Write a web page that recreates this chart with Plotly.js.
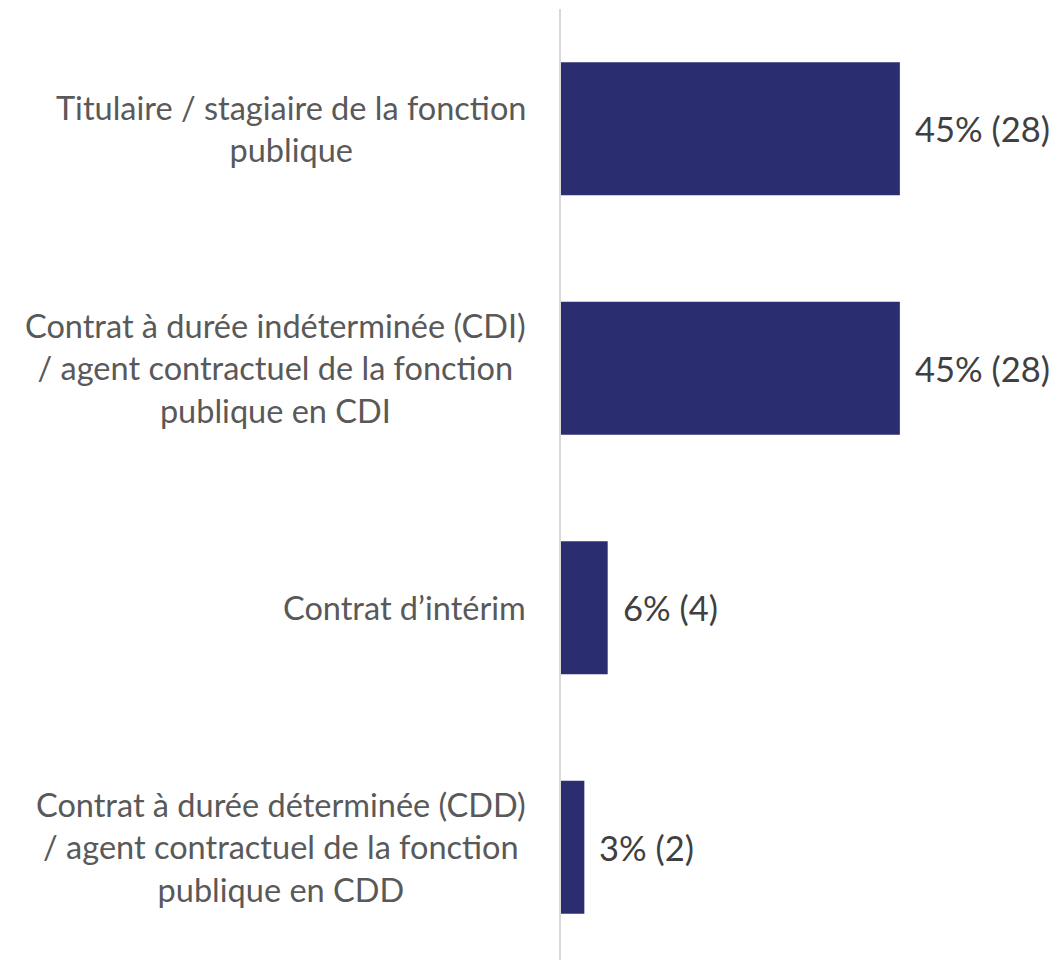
<!DOCTYPE html>
<html>
<head>
<meta charset="utf-8">
<script src="https://cdn.plot.ly/plotly-3.0.1.min.js"></script>
<style>
  html, body { margin: 0; padding: 0; background: #ffffff; overflow: hidden; }
  #chart { width: 1055px; height: 967px; }
</style>
</head>
<body>
<div id="chart"></div>
<script>
// Categories (top to bottom)
var categories = [
  "Titulaire / stagiaire de la fonction<br>publique",
  "Contrat à durée indéterminée (CDI)<br>/ agent contractuel de la fonction<br>publique en CDI",
  "Contrat d’intérim",
  "Contrat à durée déterminée (CDD)<br>/ agent contractuel de la fonction<br>publique en CDD"
];
// Share of respondents (%)
var percents = [45, 45, 6.2, 3.1];
// Respondent counts
var counts = [28, 28, 4, 2];
// Value labels
var valueLabels = ["45% (28)", "45% (28)", "6% (4)", "3% (2)"];

var barColor = "#2B2D71";
var labelFont = "Lato, 'Open Sans', sans-serif";

var trace = {
  type: "bar",
  orientation: "h",
  x: percents,
  y: categories,
  customdata: counts,
  marker: { color: barColor, line: { width: 0 } },
  hoverinfo: "skip"
};

var annotations = [];
categories.forEach(function (c, i) {
  annotations.push({
    xref: "x", yref: "y",
    x: 0, y: c,
    text: c,
    showarrow: false,
    xanchor: "right", yanchor: "middle",
    align: "center",
    xshift: -33,
    font: { family: labelFont, size: 32.5, color: "#595959" }
  });
  annotations.push({
    xref: "x", yref: "y",
    x: percents[i], y: c,
    text: valueLabels[i],
    showarrow: false,
    xanchor: "left", yanchor: "middle",
    xshift: 13,
    font: { family: labelFont, size: 34.5, color: "#404040" }
  });
});

var layout = {
  width: 1055,
  height: 967,
  margin: { l: 561, r: 0, t: 9, b: 0, pad: 0 },
  paper_bgcolor: "#ffffff",
  plot_bgcolor: "#ffffff",
  showlegend: false,
  bargap: 0.445,
  xaxis: {
    range: [0, 65.6],
    visible: false,
    fixedrange: true
  },
  yaxis: {
    type: "category",
    categoryorder: "array",
    categoryarray: categories,
    autorange: "reversed",
    showticklabels: false,
    ticks: "",
    showgrid: false,
    zeroline: false,
    showline: true,
    linecolor: "#D9D9D9",
    linewidth: 2,
    fixedrange: true
  },
  annotations: annotations
};

Plotly.newPlot("chart", [trace], layout, { displayModeBar: false, staticPlot: true });
</script>
</body>
</html>
